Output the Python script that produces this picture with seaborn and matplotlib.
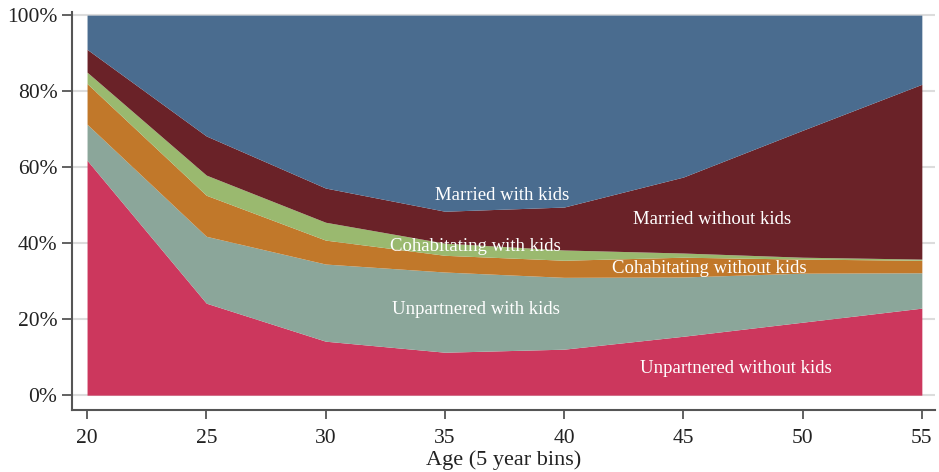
import matplotlib
matplotlib.use("Agg")
import numpy as np
import pandas as pd
import seaborn as sns
import matplotlib.pyplot as plt
from matplotlib.ticker import PercentFormatter

# shares (%) by age bin, bottom to top of the stack
ages = [20, 25, 30, 35, 40, 45, 50, 55]
unpartnered_no_kids = [61.8, 24.2, 14.2, 11.3, 12.1, 15.5, 19.2, 22.9]
unpartnered_kids = [9.5, 17.6, 20.3, 21.1, 18.9, 15.6, 12.9, 9.3]
cohab_no_kids = [10.7, 10.8, 6.3, 4.4, 4.5, 5.2, 3.7, 3.3]
cohab_kids = [3.0, 5.3, 4.7, 3.2, 2.7, 1.1, 0.5, 0.3]
married_no_kids = [6.0, 10.3, 9.0, 8.4, 11.3, 20.0, 33.4, 46.0]
married_kids = [9.0, 31.8, 45.5, 51.6, 50.5, 42.6, 30.3, 18.2]

groups = ["Unpartnered without kids", "Unpartnered with kids",
          "Cohabitating without kids", "Cohabitating with kids",
          "Married without kids", "Married with kids"]
colors = ["#cc375d", "#8ba69a", "#c1782a", "#9ab96f", "#6a2228", "#4a6c8f"]

# label anchor points (age, share)
label_x = [47.2, 36.3, 46.1, 36.3, 46.2, 37.4]
label_y = [7.1, 22.6, 33.4, 39.2, 46.1, 52.6]

df = pd.DataFrame({
    "age": ages,
    groups[0]: unpartnered_no_kids,
    groups[1]: unpartnered_kids,
    groups[2]: cohab_no_kids,
    groups[3]: cohab_kids,
    groups[4]: married_no_kids,
    groups[5]: married_kids,
})

sns.set_theme(style="white")
plt.rcParams["font.family"] = ["Liberation Serif", "DejaVu Serif"]

fig = plt.figure(figsize=(9.39, 4.72), dpi=100)
ax = fig.add_axes([0.0767, 0.1314, 0.919, 0.843])

for yv in [0, 20, 40, 60, 80, 100]:
    ax.axhline(yv, color="#dcdcdc", lw=1.5, zorder=0)

ax.stackplot(df["age"], [df[g] for g in groups], colors=colors, lw=0, zorder=2)

for g, lx, ly in zip(groups, label_x, label_y):
    ax.text(lx, ly, g, color="white", fontsize=13.5, ha="center", va="center", zorder=3)

ax.set_xlim(19.37, 55.55)
ax.set_ylim(-3.9, 100.8)
ax.set_xticks(ages)
ax.set_yticks([0, 20, 40, 60, 80, 100])
ax.yaxis.set_major_formatter(PercentFormatter(decimals=0))
ax.set_xlabel("Age (5 year bins)", fontsize=16, labelpad=2, color="#222222")
ax.set_ylabel("")

sns.despine(ax=ax, top=True, right=True)
for side in ["left", "bottom"]:
    ax.spines[side].set_color("#555555")
    ax.spines[side].set_linewidth(1.5)
ax.tick_params(axis="y", which="major", direction="out", length=7.5, width=1.3,
               color="#555555", labelsize=15.5, labelcolor="#222222", pad=3, left=True)
ax.tick_params(axis="x", which="major", direction="out", length=6.5, width=1.3,
               color="#555555", labelsize=15.5, labelcolor="#222222", pad=7, bottom=True)

fig.savefig("out.png", dpi=100)
